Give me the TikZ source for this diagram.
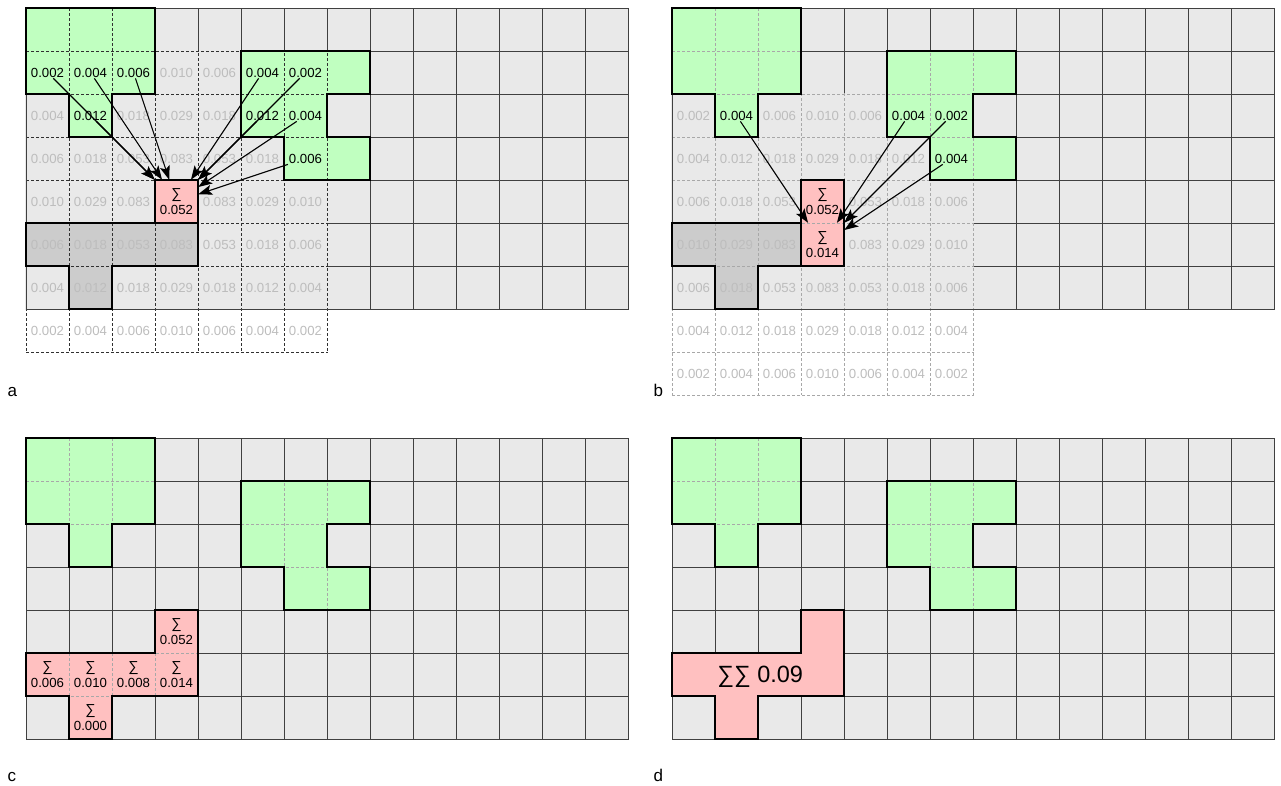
\documentclass[tikz,border=0pt]{standalone}
\usepackage{fontspec}
\setmainfont{Liberation Sans}
\usetikzlibrary{arrows.meta}
\definecolor{cellgray}{HTML}{E9E9E9}
\definecolor{gridc}{HTML}{404040}
\definecolor{greenc}{HTML}{C0FFC0}
\definecolor{pinkc}{HTML}{FFC0C0}
\definecolor{grayc}{HTML}{CCCCCC}
\definecolor{valgray}{HTML}{BDBDBD}
\definecolor{dashlightc}{HTML}{A8A8A8}
\definecolor{dashdarkc}{HTML}{303030}
\def\greenA{(0,0) -- (3,0) -- (3,2) -- (2,2) -- (2,3) -- (1,3) -- (1,2) -- (0,2) -- cycle}
\def\greenB{(5,1) -- (8,1) -- (8,2) -- (7,2) -- (7,3) -- (8,3) -- (8,4) -- (6,4) -- (6,3) -- (5,3) -- cycle}
\def\grayA{(0,5) -- (4,5) -- (4,6) -- (2,6) -- (2,7) -- (1,7) -- (1,6) -- (0,6) -- cycle}
\def\grayB{(0,5) -- (3,5) -- (3,6) -- (2,6) -- (2,7) -- (1,7) -- (1,6) -- (0,6) -- cycle}
\def\pinkB{(3,4) -- (4,4) -- (4,6) -- (3,6) -- cycle}
\def\pinkC{(3,4) -- (4,4) -- (4,6) -- (2,6) -- (2,7) -- (1,7) -- (1,6) -- (0,6) -- (0,5) -- (3,5) -- cycle}
\newcommand{\dgrid}[1]{%
  \foreach \i in {0,...,14} \draw[#1] (\i,0) -- (\i,9);
  \foreach \j in {0,...,9} \draw[#1] (0,\j) -- (14,\j);}
\newcommand{\basegrid}{%
  \fill[cellgray] (0,0) rectangle (14,7);
  \foreach \i in {1,...,13} \draw[gl] (\i,0) -- (\i,7);
  \foreach \j in {1,...,6} \draw[gl] (0,\j) -- (14,\j);}
\newcommand{\sumsym}{{\fontsize{14.5}{15}\selectfont ∑}}
\tikzset{
  gl/.style={draw=gridc, line width=0.9pt},
  dashdark/.style={draw=dashdarkc, line width=0.75pt, dash pattern=on 3pt off 2pt},
  dashlight/.style={draw=dashlightc, line width=0.75pt, dash pattern=on 3pt off 2pt},
  vg/.style={text=valgray, font=\fontsize{13.2}{15}\selectfont, inner sep=1pt},
  vb/.style={vg, text=black},
  sumnode/.style={minimum width=43pt, minimum height=43pt, inner sep=0pt, align=center, font=\fontsize{13.2}{16.5}\selectfont},
  bignode/.style={font=\fontsize{23.5}{26}\selectfont, inner sep=0pt},
  outl/.style={draw=black, line width=1.4pt, line join=miter},
  arr/.style={-{Stealth[length=14pt,width=10pt,inset=3pt]}, line width=1.1pt},
  plabel/.style={font=\fontsize{17}{20}\selectfont, inner sep=0pt, anchor=base west},
}
\begin{document}
\begin{tikzpicture}[x=1pt,y=-1pt]
\useasboundingbox (0,0) rectangle (1281,785);

% ---------------- panel a ----------------
\begin{scope}[shift={(26,8)}, x=43pt, y=-43pt]
  \basegrid
  \fill[cellgray] (-0.02,0.98) rectangle (7.02,7.02);
  \fill[greenc] \greenA;
  \fill[greenc] \greenB;
  \fill[grayc] \grayA;
  \fill[pinkc] (3,4) rectangle (4,5);
  \begin{scope}\clip (-0.02,0.98) rectangle (7.02,8.02); \dgrid{dashdark}\end{scope}
  \begin{scope}\clip \greenA; \dgrid{dashdark}\end{scope}
  \begin{scope}\clip \greenB; \dgrid{dashdark}\end{scope}
  \begin{scope}\clip \grayA; \dgrid{dashdark}\end{scope}
  \draw[gl] (0,0) rectangle (14,7);
  \draw[outl] \greenA;
  \draw[outl] \greenB;
  \draw[outl] \grayA;
  \draw[outl] (3,4) rectangle (4,5);
  \foreach \v/\s [count=\c from 0] in {0.002/vb,0.004/vb,0.006/vb,0.010/vg,0.006/vg,0.004/vb,0.002/vb}
    \node[\s] (a-\c-1) at (\c+0.5,1.5) {\v};
  \foreach \v/\s [count=\c from 0] in {0.004/vg,0.012/vb,0.018/vg,0.029/vg,0.018/vg,0.012/vb,0.004/vb}
    \node[\s] (a-\c-2) at (\c+0.5,2.5) {\v};
  \foreach \v/\s [count=\c from 0] in {0.006/vg,0.018/vg,0.053/vg,0.083/vg,0.053/vg,0.018/vg,0.006/vb}
    \node[\s] (a-\c-3) at (\c+0.5,3.5) {\v};
  \foreach \v [count=\c from 0] in {0.010,0.029,0.083}
    \node[vg] (a-\c-4) at (\c+0.5,4.5) {\v};
  \foreach \v [count=\c from 4] in {0.083,0.029,0.010}
    \node[vg] (a-\c-4) at (\c+0.5,4.5) {\v};
  \foreach \v [count=\c from 0] in {0.006,0.018,0.053,0.083,0.053,0.018,0.006}
    \node[vg] (a-\c-5) at (\c+0.5,5.5) {\v};
  \foreach \v [count=\c from 0] in {0.004,0.012,0.018,0.029,0.018,0.012,0.004}
    \node[vg] (a-\c-6) at (\c+0.5,6.5) {\v};
  \foreach \v [count=\c from 0] in {0.002,0.004,0.006,0.010,0.006,0.004,0.002}
    \node[vg] (a-\c-7) at (\c+0.5,7.5) {\v};
  \node[sumnode] (aS) at (3.5,4.5) {\sumsym\\0.052};
  \foreach \n in {a-0-1,a-1-1,a-2-1,a-1-2,a-5-1,a-6-1,a-5-2,a-6-2,a-6-3}
    \draw[arr] (\n) -- (aS);
\end{scope}

% ---------------- panel b ----------------
\begin{scope}[shift={(672,8)}, x=43pt, y=-43pt]
  \basegrid
  \fill[cellgray] (-0.02,1.98) rectangle (7.02,7.02);
  \fill[greenc] \greenA;
  \fill[greenc] \greenB;
  \fill[grayc] \grayB;
  \fill[pinkc] \pinkB;
  \begin{scope}\clip (-0.02,1.98) rectangle (7.02,9.02); \dgrid{dashlight}\end{scope}
  \begin{scope}\clip \greenA; \dgrid{dashlight}\end{scope}
  \begin{scope}\clip \greenB; \dgrid{dashlight}\end{scope}
  \begin{scope}\clip \grayB; \dgrid{dashlight}\end{scope}
  \begin{scope}\clip \pinkB; \dgrid{dashlight}\end{scope}
  \draw[gl] (0,0) rectangle (14,7);
  \draw[outl] \greenA;
  \draw[outl] \greenB;
  \draw[outl] \grayB;
  \draw[outl] \pinkB;
  \foreach \v/\s [count=\c from 0] in {0.002/vg,0.004/vb,0.006/vg,0.010/vg,0.006/vg,0.004/vb,0.002/vb}
    \node[\s] (b-\c-2) at (\c+0.5,2.5) {\v};
  \foreach \v/\s [count=\c from 0] in {0.004/vg,0.012/vg,0.018/vg,0.029/vg,0.018/vg,0.012/vg,0.004/vb}
    \node[\s] (b-\c-3) at (\c+0.5,3.5) {\v};
  \foreach \v [count=\c from 0] in {0.006,0.018,0.053}
    \node[vg] (b-\c-4) at (\c+0.5,4.5) {\v};
  \foreach \v [count=\c from 4] in {0.053,0.018,0.006}
    \node[vg] (b-\c-4) at (\c+0.5,4.5) {\v};
  \foreach \v [count=\c from 0] in {0.010,0.029,0.083}
    \node[vg] (b-\c-5) at (\c+0.5,5.5) {\v};
  \foreach \v [count=\c from 4] in {0.083,0.029,0.010}
    \node[vg] (b-\c-5) at (\c+0.5,5.5) {\v};
  \foreach \v [count=\c from 0] in {0.006,0.018,0.053,0.083,0.053,0.018,0.006}
    \node[vg] (b-\c-6) at (\c+0.5,6.5) {\v};
  \foreach \v [count=\c from 0] in {0.004,0.012,0.018,0.029,0.018,0.012,0.004}
    \node[vg] (b-\c-7) at (\c+0.5,7.5) {\v};
  \foreach \v [count=\c from 0] in {0.002,0.004,0.006,0.010,0.006,0.004,0.002}
    \node[vg] (b-\c-8) at (\c+0.5,8.5) {\v};
  \node[sumnode] (bS) at (3.5,4.5) {\sumsym\\0.052};
  \node[sumnode] (bT) at (3.5,5.5) {\sumsym\\0.014};
  \foreach \n in {b-1-2,b-5-2,b-6-2,b-6-3}
    \draw[arr] (\n) -- (bT);
\end{scope}

% ---------------- panel c ----------------
\begin{scope}[shift={(26,438)}, x=43pt, y=-43pt]
  \basegrid
  \fill[greenc] \greenA;
  \fill[greenc] \greenB;
  \fill[pinkc] \pinkC;
  \begin{scope}\clip \greenA; \dgrid{dashlight}\end{scope}
  \begin{scope}\clip \greenB; \dgrid{dashlight}\end{scope}
  \begin{scope}\clip \pinkC; \dgrid{dashlight}\end{scope}
  \draw[gl] (0,0) rectangle (14,7);
  \draw[outl] \greenA;
  \draw[outl] \greenB;
  \draw[outl] \pinkC;
  \node[sumnode] (c-3-4) at (3.5,4.5) {\sumsym\\0.052};
  \node[sumnode] (c-0-5) at (0.5,5.5) {\sumsym\\0.006};
  \node[sumnode] (c-1-5) at (1.5,5.5) {\sumsym\\0.010};
  \node[sumnode] (c-2-5) at (2.5,5.5) {\sumsym\\0.008};
  \node[sumnode] (c-3-5) at (3.5,5.5) {\sumsym\\0.014};
  \node[sumnode] (c-1-6) at (1.5,6.5) {\sumsym\\0.000};
\end{scope}

% ---------------- panel d ----------------
\begin{scope}[shift={(672,438)}, x=43pt, y=-43pt]
  \basegrid
  \fill[greenc] \greenA;
  \fill[greenc] \greenB;
  \fill[pinkc] \pinkC;
  \begin{scope}\clip \greenA; \dgrid{dashlight}\end{scope}
  \begin{scope}\clip \greenB; \dgrid{dashlight}\end{scope}
  \draw[gl] (0,0) rectangle (14,7);
  \draw[outl] \greenA;
  \draw[outl] \greenB;
  \draw[outl] \pinkC;
  \node[bignode] (dsum) at (2.05,5.55) {∑∑ 0.09};
\end{scope}

% ---------------- panel letters ----------------
\node[plabel] (la) at (7.5,396) {a};
\node[plabel] (lb) at (653.5,396) {b};
\node[plabel] (lc) at (7.5,781) {c};
\node[plabel] (ld) at (653.5,781) {d};
\end{tikzpicture}
\end{document}
